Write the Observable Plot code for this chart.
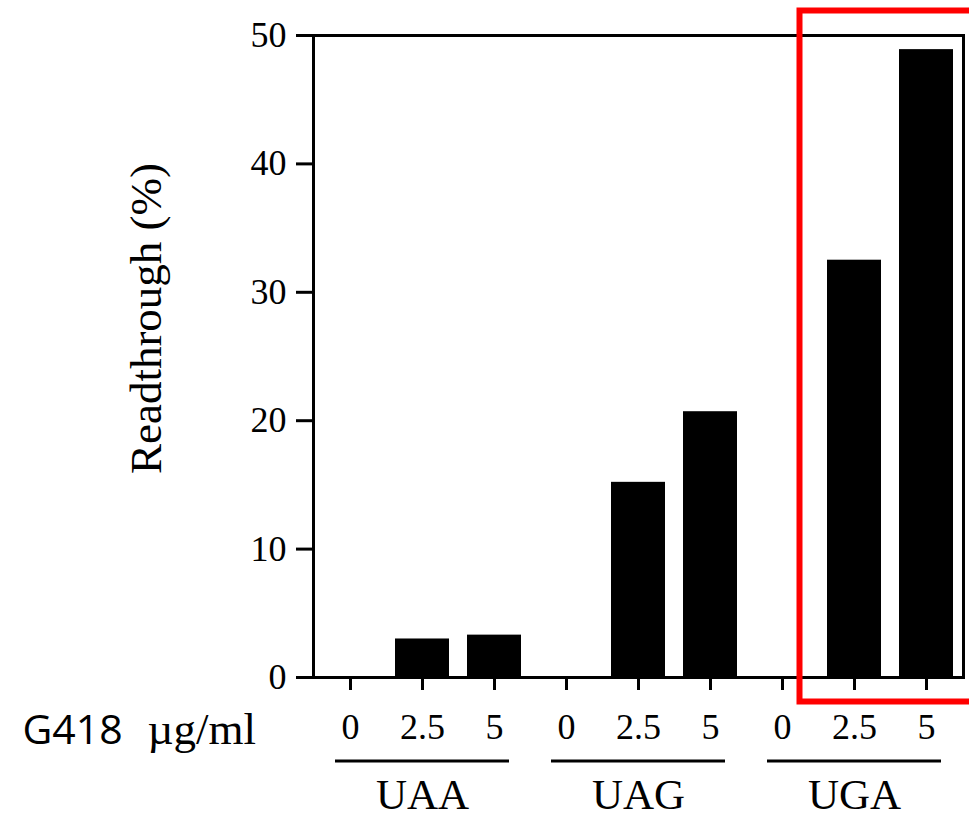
<!DOCTYPE html>
<html>
<head>
<meta charset="utf-8">
<script src="https://cdn.jsdelivr.net/npm/d3@7"></script>
<script src="https://cdn.jsdelivr.net/npm/@observablehq/plot@0.6"></script>
<style>
  html, body { margin: 0; padding: 0; background: #fff; overflow: hidden; }
  #chart { width: 969px; height: 817px; }
</style>
</head>
<body>
<div id="chart"></div>
<script>
// ---- data ----
const groups = ["UAA", "UAG", "UGA"];
const doses = ["0", "2.5", "5"];
const uaa = [0, 3.0, 3.3];
const uag = [0, 15.2, 20.7];
const uga = [0, 32.5, 48.9];
const yTicks = [0, 10, 20, 30, 40, 50];
const yLabel = "Readthrough (%)";
const doseLabel = "G418";
const unitLabel = "µg/ml";

// build table
const seriesByGroup = {UAA: uaa, UAG: uag, UGA: uga};
const table = [];
for (const g of groups) {
  doses.forEach((d, i) => table.push({group: g, dose: d, key: g + " " + d, value: seriesByGroup[g][i]}));
}
const keys = table.map(d => d.key);

const serif = "Liberation Serif, Times New Roman, serif";

const plot = Plot.plot({
  width: 969,
  height: 817,
  marginLeft: 313,
  marginRight: 6,
  marginTop: 35,
  marginBottom: 140,
  style: {fontFamily: serif, fontSize: "35px", color: "black", background: "white", overflow: "visible"},
  x: {type: "band", domain: keys, paddingInner: 0.25, paddingOuter: 0.125, axis: null},
  y: {domain: [0, 50], axis: null},
  marks: [
    Plot.barY(table, {x: "key", y: "value", fill: "black"}),
    Plot.frame({strokeWidth: 3}),
    Plot.axisY({ticks: yTicks, tickSize: 17, tickPadding: 10, strokeWidth: 3, fontSize: 36, fontFamily: serif, label: null}),
    Plot.axisX({tickSize: 13, tickPadding: 23, strokeWidth: 3, fontSize: 36, fontFamily: serif, label: null,
      tickFormat: k => k.split(" ")[1]}),
    Plot.rect(groups, {y1: () => 0, y2: () => 0, x1: g => g + " 0", x2: g => g + " 5", dy: 84,
      insetTop: -1.5, insetBottom: -1.5, insetLeft: 12, insetRight: 12, fill: "black"}),
    Plot.text(groups, {x: g => g + " 2.5", frameAnchor: "bottom", dy: 118, text: d => d,
      fontSize: 43, fontFamily: serif, lineAnchor: "middle"}),
    Plot.text([yLabel], {frameAnchor: "left", rotate: -90, dx: -167, dy: -38, text: d => d,
      fontSize: 45, fontFamily: serif, lineAnchor: "middle", textAnchor: "middle"}),
    Plot.text([doseLabel], {frameAnchor: "bottom-left", dx: -291, dy: 53, text: d => d, textAnchor: "start",
      fontSize: 41, fontFamily: "Open Sans, sans-serif", lineAnchor: "middle"}),
    Plot.text([unitLabel], {frameAnchor: "bottom-left", dx: -166, dy: 52, text: d => d, textAnchor: "start",
      fontSize: 45, fontFamily: serif, lineAnchor: "middle"}),
    Plot.frame({stroke: "#ff0000", strokeWidth: 6, insetLeft: 486, insetTop: -25, insetBottom: -24, insetRight: -12})
  ]
});
document.getElementById("chart").appendChild(plot);
</script>
</body>
</html>
